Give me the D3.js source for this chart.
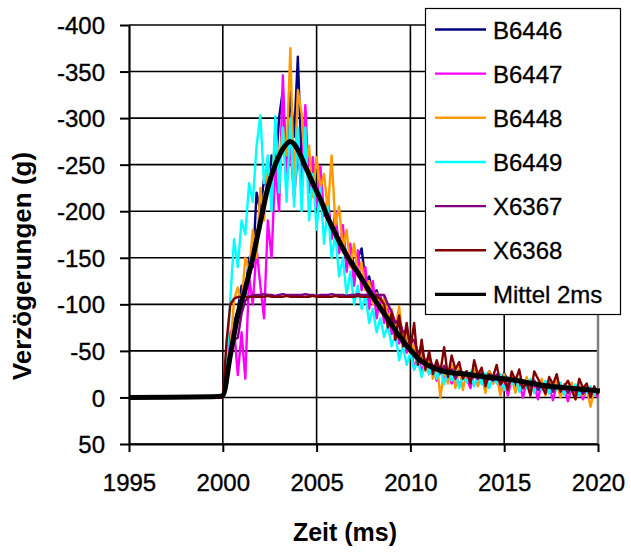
<!DOCTYPE html>
<html><head><meta charset="utf-8">
<script src="https://cdn.jsdelivr.net/npm/d3@7"></script>
<style>body{margin:0;background:#fff}svg{display:block}</style>
</head><body>
<svg id="c" width="631" height="556"></svg>
<script>
// ---- data ----
const seriesNames = ["B6446","B6447","B6448","B6449","X6367","X6368","Mittel 2ms"];
const seriesColors = ["#000080","#ff00ff","#ff9900","#00ffff","#800080","#800000","#000000"];
const xTicks = [1995,2000,2005,2010,2015,2020];
const yTicks = [-400,-350,-300,-250,-200,-150,-100,-50,0,50];

// sample times: 1995, then 2000.0 .. 2020.0 every 0.2 ms
const sampleTimes = [1995].concat(d3.range(101).map(k => +(2000 + k*0.2).toFixed(1)));

const b6446 = [0,
 0,-12,-45,-80,-95,-120,-110,-150,-140,-220,
 -200,-235,-222,-260,-240,-300,-330,-225,-328,-280,
 -366,-250,-280,-230,-245,-215,-225,-195,-205,-180,
 -190,-165,-175,-150,-160,-140,-150,-160,-125,-130,
 -110,-115,-100,-105,-88,-90,-75,-78,-62,-65,
 -50,-52,-40,-44,-34,-38,-30,-34,-26,-32,
 -25,-33,-24,-30,-22,-28,-20,-30,-22,-26,
 -18,-28,-20,-24,-15,-26,-18,-22,-12,-20,
 -14,-20,-10,-18,-12,-16,-8,-15,-10,-14,
 -6,-14,-8,-12,-4,-11,-6,-10,-3,-9,
 -5];
const b6447 = [0,
 0,-15,-70,-75,-24,-70,-20,-130,-100,-160,
 -120,-85,-190,-150,-250,-200,-346,-230,-270,-215,
 -260,-230,-314,-220,-258,-205,-248,-195,-215,-170,
 -200,-155,-185,-135,-165,-120,-158,-115,-140,-95,
 -125,-85,-110,-80,-95,-68,-82,-58,-70,-48,
 -58,-30,-45,-28,-38,-25,-35,-18,-30,-20,
 -28,-15,-25,-12,-24,-20,-10,-26,-14,-22,
 -8,-22,-15,-25,-5,-18,-2,-20,-8,-16,
 0,-18,-6,-14,2,-16,-4,-12,3,-14,
 -2,-10,4,-12,-3,-8,2,-10,-2,-6,
 0];
const b6448 = [0,
 0,-10,-50,-105,-118,-100,-150,-135,-180,-150,
 -225,-190,-250,-220,-287,-250,-290,-260,-375,-220,
 -330,-305,-250,-270,-215,-258,-225,-240,-200,-260,
 -185,-205,-160,-180,-140,-165,-130,-145,-115,-125,
 -100,-112,-92,-108,-85,-95,-72,-98,-60,-68,
 -45,-58,-35,-50,-28,-42,-20,-38,0,-30,
 -15,-35,-10,-32,-8,-28,-18,-30,-12,-25,
 -5,-28,-15,-22,-2,-25,-8,-24,-5,-20,
 -10,-22,-4,-18,-8,-20,-2,-16,-6,-18,
 0,-14,-4,-16,2,-12,-2,-10,10,-8,
 -4];
const b6449 = [0,
 0,-40,-105,-170,-140,-190,-175,-230,-210,-270,
 -303,-230,-260,-200,-302,-220,-290,-210,-300,-205,
 -290,-200,-290,-190,-240,-180,-225,-165,-205,-150,
 -175,-130,-150,-110,-135,-100,-120,-95,-110,-80,
 -95,-70,-85,-65,-78,-55,-68,-40,-55,-35,
 -48,-30,-40,-22,-38,-25,-35,-20,-30,-14,
 -28,-18,-26,-10,-24,-16,-28,-12,-24,-14,
 -26,-10,-22,-15,-25,-8,-20,-14,-22,-6,
 -18,-10,-20,-5,-16,-8,-18,-4,-14,-8,
 -16,-3,-12,-6,-14,-2,-10,-5,-12,-3,
 -8];
const x6367 = [0,
 0,-15,-45,-62,-64,-90,-104,-108,-110,-110,
 -110,-111,-110,-110,-109,-110,-111,-110,-110,-110,
 -110,-110,-111,-110,-110,-109,-110,-110,-110,-111,
 -110,-110,-110,-109,-110,-110,-111,-110,-110,-110,
 -110,-110,-110,-110,-100,-92,-80,-84,-70,-72,
 -58,-62,-48,-52,-38,-44,-32,-36,-26,-34,
 -25,-30,-20,-28,-22,-26,-18,-24,-20,-26,
 -16,-22,-18,-24,-14,-20,-12,-20,-16,-18,
 -10,-16,-12,-18,-8,-14,-10,-15,-6,-12,
 -8,-12,-5,-11,-6,-10,-4,-9,-5,-8,
 -4];
const x6368 = [0,
 0,-60,-100,-106,-108,-108,-108,-108,-108,-108,
 -108,-108,-109,-108,-108,-108,-108,-109,-108,-108,
 -108,-108,-108,-108,-109,-108,-108,-108,-108,-108,
 -109,-108,-108,-108,-108,-108,-109,-108,-108,-108,
 -108,-108,-106,-100,-75,-90,-62,-88,-55,-80,
 -52,-80,-35,-62,-30,-50,-25,-40,-28,-54,
 -22,-45,-30,-38,-20,-28,-15,-40,-24,-32,
 -12,-25,-22,-35,-14,-20,-8,-28,-18,-30,
 -10,-16,-2,-28,-20,-12,-4,-22,-14,-25,
 -6,-12,-18,-8,2,-20,-10,-15,0,-12,
 -3];
const mittelTimes = [1995,1999.8,2000,2000.4,2000.8,2001.2,2001.6,2002,2002.4,2002.8,2003.2,2003.6,2004,2004.4,2004.8,2005.2,2005.6,2006,2006.4,2006.8,2007.2,2007.6,2008,2008.4,2008.8,2009.2,2009.6,2010,2010.4,2010.8,2011.2,2011.6,2012,2013,2014,2015,2016,2017,2018,2019,2020.1];
const mittelValues = [0,-1,-2,-45,-88,-117,-150,-188,-225,-250,-267,-275,-266,-248,-230,-213,-193,-176,-160,-146,-134,-121,-108,-96,-84,-72,-61,-51,-42,-36,-32,-29,-27,-25,-22,-20,-17,-13,-11,-9,-7];

// ---- chart ----
const FONT = "'Liberation Sans', Arial, sans-serif";
const svg = d3.select('#c');
const x = d3.scaleLinear().domain([1995,2020]).range([129,598]);
const y = d3.scaleLinear().domain([-400,50]).range([25,444]);

// gridlines
svg.append('g').selectAll('line').data(yTicks).join('line')
  .attr('x1', x(1995)).attr('x2', x(2020))
  .attr('y1', d => y(d)).attr('y2', d => y(d))
  .attr('stroke', '#000').attr('stroke-width', 1.6);
svg.append('g').selectAll('line').data(xTicks.slice(1, -1)).join('line')
  .attr('x1', d => x(d)).attr('x2', d => x(d))
  .attr('y1', y(-400)).attr('y2', y(50))
  .attr('stroke', '#000').attr('stroke-width', 1.6);
svg.append('line')
  .attr('x1', x(2020)).attr('x2', x(2020)).attr('y1', y(-400)).attr('y2', y(50))
  .attr('stroke', '#808080').attr('stroke-width', 2.5);

// series
const rawSeries = [b6446, b6447, b6448, b6449, x6367, x6368];
const line = d3.line().x(d => x(d[0])).y(d => y(d[1]));
rawSeries.forEach((vals, i) => {
  svg.append('path')
    .datum(vals.map((v, k) => [sampleTimes[k], v]))
    .attr('d', line).attr('fill', 'none')
    .attr('stroke', seriesColors[i]).attr('stroke-width', 2.4)
    .attr('stroke-linejoin', 'round');
});
svg.append('path')
  .datum(mittelValues.map((v, k) => [mittelTimes[k], v]))
  .attr('d', d3.line().curve(d3.curveMonotoneX).x(d => x(d[0])).y(d => y(d[1])))
  .attr('fill', 'none').attr('stroke', '#000').attr('stroke-width', 5)
  .attr('stroke-linejoin', 'round');

// axes
const yAxis = svg.append('g').attr('transform', `translate(${x(1995)},0)`)
  .call(d3.axisLeft(y).tickValues(yTicks).tickSize(9).tickSizeOuter(0).tickPadding(15).tickFormat(d => String(d)));
const xAxis = svg.append('g').attr('transform', `translate(0,${y(50)})`)
  .call(d3.axisBottom(x).tickValues(xTicks).tickSize(8).tickSizeOuter(0).tickPadding(22).tickFormat(d => String(d)));
[yAxis, xAxis].forEach(a => {
  a.select('.domain').attr('stroke', '#000').attr('stroke-width', 2.2);
  a.selectAll('.tick line').attr('stroke', '#000').attr('stroke-width', 2);
  a.selectAll('.tick text').attr('fill', '#000').attr('stroke', '#000').attr('stroke-width', 0.35)
    .style('font-family', FONT).style('font-size', '24px');
});
yAxis.selectAll('.tick text').attr('dy', '0.36em');

// axis titles
svg.append('text').text('Zeit (ms)')
  .attr('x', 345).attr('y', 541).attr('text-anchor', 'middle')
  .style('font-family', FONT).style('font-size', '25px').style('font-weight', 'bold');
svg.append('text').text('Verzögerungen (g)')
  .attr('transform', 'translate(31,266) rotate(-90)').attr('text-anchor', 'middle')
  .style('font-family', FONT).style('font-size', '26px').style('font-weight', 'bold');

// legend
const lg = svg.append('g');
lg.append('rect').attr('x', 425.5).attr('y', 8.5).attr('width', 195).attr('height', 306)
  .attr('fill', '#fff').attr('stroke', '#000').attr('stroke-width', 1.2);
seriesNames.forEach((name, i) => {
  const ly = 29.5 + i * 44.15;
  lg.append('line').attr('x1', 435).attr('x2', 486).attr('y1', ly).attr('y2', ly)
    .attr('stroke', seriesColors[i]).attr('stroke-width', i === 6 ? 3.2 : 2.4);
  lg.append('text').text(name).attr('x', 493).attr('y', ly + 9)
    .attr('stroke', '#000').attr('stroke-width', 0.3)
    .style('font-family', FONT).style('font-size', '24px').attr('fill', '#000');
});
</script>
</body></html>
